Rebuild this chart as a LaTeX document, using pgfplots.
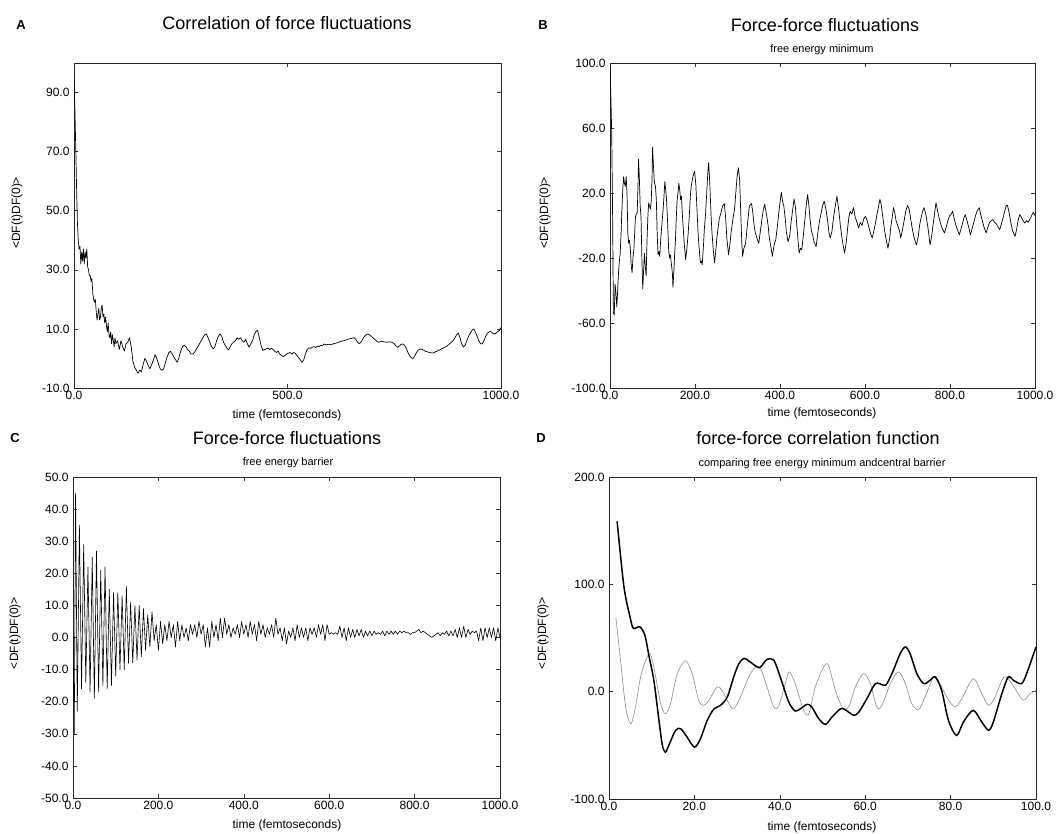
\documentclass[border=0pt]{standalone}
\usepackage{fontspec}
\setmainfont{Liberation Sans}
\usepackage{pgfplots}
\pgfplotsset{compat=1.18}

\pgfplotsset{
  panel/.style={
    scale only axis,
    anchor=south west,
    axis line style={line width=0.6pt, black!85},
    tick align=inside,
    tick pos=both,
    major tick length=4pt,
    tick style={line width=0.5pt, black!80},
    ticklabel style={font=\fontsize{12}{14}\selectfont},
    yticklabel style={xshift=-1pt},
    /pgf/number format/assume math mode=true,
    /pgf/number format/fixed,
    /pgf/number format/fixed zerofill,
    /pgf/number format/precision=1,
    /pgf/number format/1000 sep={},
    scaled ticks=false,
  },
  trace/.style={line width=0.7pt, black, line join=round},
}
\newcommand{\ttl}{\fontsize{18}{20}\selectfont}
\newcommand{\subt}{\fontsize{11}{13}\selectfont}
\newcommand{\lab}{\fontsize{12}{14}\selectfont}

\begin{document}
\begin{tikzpicture}
\useasboundingbox (0,0) rectangle (1057pt,833pt);

% ---------------- A
\begin{axis}[panel, at={(74pt,445pt)}, width=427pt, height=325pt,
  xmin=0, xmax=1000, ymin=-10, ymax=100,
  xtick={0,500,1000}, ytick={-10,10,30,50,70,90}]
\addplot[trace] coordinates {
(0,95) (2,85) (4,72) (6,58) (8,46) (10,40) (12,37) (14,38) (16,32) (18,36)
(20,33) (22,37) (24,32) (26,36) (28,34) (30,37) (32,31) (34,30) (36,28) (38,28)
(40,26) (42,27) (44,22) (46,20) (48,19) (50,20) (52,16) (54,13) (56,15) (58,17)
(60,13) (62,14) (64,17) (66,18) (68,14) (70,15) (72,12) (74,14) (76,11) (78,9)
(80,12) (82,8) (84,7) (86,9) (88,5) (90,8) (92,6) (94,4) (96,7) (98,5)
(102,6) (106,3) (110,6) (114,4) (118,2.5) (122,5) (126,5.5) (130,7) (134,4) (138,-1)
(142,-3) (146,-4) (150,-5) (154,-4) (158,-4.5) (162,-2) (166,0) (170,-1) (174,-2.5) (178,-3.5)
(182,-2) (186,-0.5) (190,1.3) (194,0) (198,-2) (202,-3.5) (206,-4) (210,-3.5) (214,-1.5) (218,0.5)
(222,2) (226,2.4) (230,1.5) (234,0.5) (238,-0.5) (242,-1.3) (246,0.5) (250,2.5) (254,4) (258,4.5)
(262,4) (266,3) (270,2.5) (274,1.5) (278,1.5) (282,2) (286,3) (290,4) (294,5) (298,6)
(302,7) (306,8) (310,8.3) (314,7) (318,5.5) (322,4) (326,3.2) (330,4) (334,6) (338,7.5)
(342,8.3) (346,7.5) (350,5.5) (354,4.5) (358,3.5) (362,2.9) (366,4) (370,5) (374,5.5) (378,6)
(382,7) (386,6.5) (390,7) (394,6) (398,5.5) (402,6.5) (406,5) (410,3.8) (414,5) (418,6)
(422,8) (426,9.1) (430,9.5) (434,7) (438,4.5) (442,2.7) (446,3) (450,3.2) (454,3.5) (458,3)
(462,3.5) (466,3) (470,2.5) (474,2) (478,2.5) (482,1.5) (486,1) (490,0.6) (494,1) (498,1.5)
(502,1.8) (506,2) (510,1.5) (514,2) (518,1.8) (522,1) (526,0.3) (530,-0.5) (534,-1.3) (538,-0.5)
(542,1.5) (546,3) (550,3.6) (554,3.4) (558,3.8) (562,4) (566,3.7) (570,4.2) (574,4) (578,4.5)
(582,4.3) (586,4.9) (590,4.6) (596,4.8) (602,4.6) (608,5) (614,5.2) (620,5.5) (626,5.8) (632,6)
(638,6.3) (644,6.6) (650,6.8) (656,7) (660,6.5) (664,5.5) (668,5) (672,5.5) (676,6.5) (680,7.5)
(684,8) (688,8.3) (692,8) (696,7.5) (700,7) (704,6.5) (708,6) (712,5.5) (716,5.6) (720,5.8)
(726,5.6) (732,5.5) (738,5.6) (744,5.5) (750,5) (754,4.2) (758,3.8) (762,4.2) (766,4.8) (770,4.9)
(774,4.5) (778,3.5) (782,2) (786,1) (790,0.2) (794,0) (798,0.8) (802,2) (806,2.8) (810,3.2)
(816,3) (822,2.5) (828,2.2) (834,2) (840,1.8) (846,2.2) (852,2.6) (858,3) (864,3.5) (868,3.8)
(872,4) (876,4.5) (880,5) (884,5.5) (888,6) (892,7) (896,8) (900,8.6) (904,7) (908,5)
(912,3.8) (916,4.5) (920,6) (924,7.5) (928,8.5) (932,9.5) (936,10) (940,9) (944,7.5) (948,6)
(952,5) (956,4.9) (960,6) (964,7.5) (968,8.5) (972,9) (976,9.1) (980,8.6) (984,8.3) (988,8.5)
(992,9) (996,9.5) (1000,10.5)
};
\end{axis}

% ---------------- B
\begin{axis}[panel, at={(610pt,445pt)}, width=425pt, height=325pt,
  xmin=0, xmax=1000, ymin=-100, ymax=100,
  xtick={0,200,...,1000}, ytick={-100,-60,-20,20,60,100}]
\addplot[trace] coordinates {
(0,98) (2,80) (4,57) (6,10) (8,-54) (10,-55) (12,-36) (14,-42) (16,-50) (18,-40)
(20,-29) (22,-22) (24,-17) (26,-5) (28,10) (30,22) (32,30) (34,26) (36,24) (38,30)
(40,20) (42,-5) (44,-11) (46,-9) (48,-15) (50,-25) (52,-29) (54,-20) (56,-15) (58,-5)
(60,5.7) (62,7) (64,8) (66,25) (67,40.8) (69,30) (71,12) (73,5) (75,-20) (77,-39)
(79,-28) (81,-17) (83,-25) (85,-31) (87,-10) (89,5) (91,14) (93,12) (95,10) (97,15)
(99,30) (100,48) (102,38) (104,28) (105,26) (107,24) (109,16) (111,-5) (113,-18) (115,-16)
(117,-19) (119,-10) (121,-3) (123,3.6) (125,10) (127,18) (129,27) (131,22) (133,16) (135,5)
(137,-8) (138,-15) (140,-20) (142,-18) (145,-25) (147,-30) (148,-38) (150,-30) (152,-18) (154,-9)
(156,5) (158,16) (160,20) (162,26) (164,22) (166,16) (168,18) (170,8) (172,-0.5) (175,-12)
(178,-21) (181,-14) (184,-4.6) (187,8) (189,18) (191,24) (195,30) (199,33.5) (202,25) (205,7.7)
(208,-8) (211,-18) (213,-23) (215,-22) (217,-24) (220,-12) (222,-2) (225,7.7) (228,22) (230,32)
(232,38.7) (234,30) (236,18) (238,5) (240,-4.6) (243,-15) (246,-23) (248,-18) (251,-9) (254,-2)
(257,4) (261,7.7) (265,12) (269,13.5) (272,5) (275,-8) (279,-18) (282,-12) (285,-4) (289,3.6)
(293,10) (296,20) (299,30) (302,35.6) (305,28) (308,5) (310,-10) (312,-19) (315,-14) (319,-11)
(322,-3) (325,5) (328,12) (331,13) (333,13.5) (336,8) (339,0) (342,-4.6) (346,-8) (350,-11)
(354,-3) (358,5) (361,10) (364,13) (366,10) (369,5.7) (372,0) (375,-8) (379,-14) (382,-19)
(386,-12) (390,-9) (394,0) (398,10) (401,16) (403,20.5) (406,15) (409,12) (412,5) (415,-4)
(419,-10) (423,-6) (426,2) (430,10) (433,16.4) (436,12) (439,2) (442,-8) (445,-17) (448,-14)
(451,-15) (455,-6) (459,5) (462,13) (465,19) (468,12) (471,3) (474,-3.6) (477,-6) (480,-10)
(485,-13) (489,-4.6) (493,3) (497,8) (500,12) (504,15) (508,10) (512,3) (515,-4) (518,-7.7)
(522,-4) (526,5) (530,12) (534,18) (538,10) (542,0) (546,-8) (549,-13) (552,-17) (556,-10)
(559,-2) (562,5) (565,8.8) (569,7) (573,11) (577,5) (581,2) (585,-1.5) (589,2) (593,0)
(597,4) (601,5.7) (605,3) (609,-1) (613,-5) (617,-7.7) (621,-3) (625,2) (629,8) (632,12)
(635,16) (638,13) (642,5) (646,-3) (650,-9) (654,-14) (658,-8) (661,0) (664,5) (667,11)
(670,8) (673,3) (677,0) (681,-3) (684,-7.7) (688,-3) (692,3) (696,9) (700,12.3) (704,10)
(708,3) (712,-3) (716,-8) (721,-12) (725,-7) (729,1) (733,6) (736,9) (739,11) (742,8)
(745,4) (749,-3) (753,-12) (757,-6) (761,2) (764,8) (767,14) (770,10) (774,5) (778,1)
(782,-2) (787,-4.6) (791,-1) (795,3) (799,6) (803,7) (806,8.8) (810,4) (814,0) (818,-3)
(822,-5.7) (826,-2) (830,2) (833,5) (836,6.7) (840,3) (844,-1) (848,-5.7) (852,-2) (856,2)
(860,6) (864,9) (869,11) (872,7) (876,3) (880,-1) (885,-4.6) (889,-1) (893,2) (897,3)
(901,3.6) (905,2) (909,1) (913,-1) (917,-2.6) (921,1) (925,5) (929,9) (932,12) (935,12.5)
(939,8) (943,2) (947,-3) (950,-5) (953,-6.7) (957,-2) (960,3) (964,6.7) (968,5) (972,3)
(976,1.5) (980,3) (984,2) (988,4) (992,6) (996,8.2) (1000,6)
};
\end{axis}

% ---------------- C
\begin{axis}[panel, at={(73pt,35pt)}, width=427pt, height=321pt,
  xmin=0, xmax=1000, ymin=-50, ymax=50,
  xtick={0,200,...,1000}, ytick={-50,-40,...,50}]
\addplot[trace, line width=0.6pt] coordinates {
(0,2) (3,-30) (6,45) (10,-23) (15,35) (20,-16) (25,29) (30,-14) (35,22) (40,-17)
(45,25) (50,-19) (55,27) (60,-17) (65,21) (70,-15) (75,22) (80,-16) (85,15) (90,-15)
(95,14) (100,-12) (105,14) (110,-10) (115,13) (120,-10) (125,16) (130,-8) (135,11) (140,-8)
(145,10) (150,-7) (155,10) (160,-6) (165,9) (170,-4) (175,7) (180,-3) (185,8) (190,-1)
(195,4) (200,-4) (205,5) (210,-2) (215,4) (220,-1) (225,5) (230,0) (235,4) (240,-3)
(245,5) (250,-1) (255,4) (260,0) (265,3) (270,-1) (275,4) (280,1) (285,4) (290,0)
(295,5) (300,1) (305,4) (310,-3) (315,3) (320,-3) (325,5) (330,0) (335,4) (340,-1)
(345,6) (350,0) (355,6) (360,1) (365,4) (370,0) (375,3) (380,1) (385,4) (390,0)
(395,5) (400,1) (405,4) (410,0) (415,5) (420,1) (425,4) (430,-1) (435,5) (440,1)
(445,4) (450,0) (455,3) (460,1) (465,4) (470,0) (475,6) (480,1) (485,3) (490,-1)
(495,3) (500,-2) (505,2) (510,0) (515,3) (520,-1) (525,4) (530,0) (535,3) (540,0)
(545,3) (550,-1) (555,3) (560,1) (565,3) (570,0) (575,4) (580,1) (585,4) (590,-1)
(595,4) (600,1) (605,1.5) (610,1) (615,1.5) (620,1) (625,3.5) (630,0) (635,3) (640,-1)
(645,3) (650,0) (655,2.5) (660,0) (665,2.5) (670,0.5) (675,2.5) (680,0) (685,2) (690,0.5)
(695,2) (700,0.5) (705,2) (710,1) (715,1.5) (720,1) (725,2) (730,0.5) (735,2) (740,1)
(745,2) (750,1) (755,2) (760,1) (765,2) (770,1.5) (775,2) (780,1.5) (785,1.5) (790,1)
(795,1.5) (800,1.5) (805,2) (810,2.5) (815,1.5) (820,2) (825,1.5) (830,1) (835,0.5) (840,0)
(845,0.5) (850,1) (855,1.5) (860,0.5) (865,1.5) (870,1) (875,2) (880,0.5) (885,2) (890,0.5)
(895,2.5) (900,0) (905,3) (910,0) (915,3.5) (920,0) (925,2.5) (930,1) (935,2) (940,1.5)
(945,2) (950,-1) (955,3) (960,-1) (965,3) (970,0) (975,3) (980,0) (985,3) (990,-1)
(995,3) (1000,0)
};
\end{axis}

% ---------------- D
\begin{axis}[panel, at={(609pt,34pt)}, width=427pt, height=322pt,
  xmin=0, xmax=100, ymin=-100, ymax=200,
  xtick={0,20,...,100}, ytick={-100,0,100,200}]
\addplot[black!45, line width=0.6pt, smooth, tension=0.5] coordinates {
(1.6,69) (2.7,29.3) (3.9,-14.3) (5.1,-30) (6.2,-14.3) (7.4,13.7) (8.6,29.3) (9.6,35.5) (10.5,23) (12.1,-11.2)
(13.2,-20.6) (14.4,-11.2) (16,16.8) (17.9,28.7) (19.5,16.8) (21,-8) (22.2,-12.8) (23.4,-8) (25.3,4.4) (26.5,1.2)
(28.1,-11.2) (29.2,-16) (30.8,-5) (32.7,13.7) (34.3,23) (35.5,21.5) (37,4.4) (38.6,-14.3) (39.8,-12.8) (41.7,13.7)
(42.3,18.4) (43.6,7.5) (45.6,-17.4) (46.8,-20.6) (48.3,4.4) (50.3,23) (51.4,24.6) (53,1.2) (54.6,-14.3) (56.1,-14.3)
(57.7,4.4) (59.6,16.8) (61.2,7.5) (62.7,-14.3) (63.9,-12.8) (65.9,7.5) (67.8,18.4) (69.4,7.5) (70.9,-11.2) (72.5,-16.8)
(74,-5) (76,13.7) (77.1,10.6) (79.1,-5) (81,-14.3) (82.6,-6.5) (85.3,12) (87.3,-1.9) (88.9,-12.8) (90.4,-5)
(92,10.6) (93.1,13.7) (95.1,2.8) (97,-8) (98.6,-1.9) (100,1.2)
};
\addplot[black, line width=1.5pt, smooth, tension=0.5] coordinates {
(1.9,158.6) (3.5,97.8) (4.9,70) (5.7,59) (7.2,60.4) (8.4,52.6) (9.4,32.4) (10.5,10.6) (11.7,-26.8) (12.5,-50)
(13.2,-56.4) (14,-50) (15.6,-36) (16.8,-34.6) (18.3,-42.4) (20,-51.7) (21.4,-44) (23,-26.8) (24.6,-16) (26.1,-12.8)
(27.7,-5) (29.2,13.7) (30.4,26) (31.6,31) (32.7,28.7) (34.7,23) (35.5,23) (37,30) (38.6,29.3) (40.1,13.7)
(42.1,-9.7) (43.6,-18) (44.8,-16) (46.4,-11.8) (47.5,-14.3) (49.1,-25) (50.7,-30.5) (52.2,-23.7) (54.2,-16) (55.3,-16.8)
(57.3,-22) (58.5,-19) (60.4,-6.5) (62.4,7.5) (64.3,6) (65.1,7.5) (66.6,20) (68.2,35.5) (69.4,41.7) (70.5,35.5)
(72.1,16.8) (73.7,7.5) (75.2,10.6) (76.4,13.7) (77.9,1.2) (79.5,-26.8) (81.4,-40.8) (83,-28.3) (85.3,-17.4) (87.3,-28.3)
(88.9,-36) (90,-28.3) (92,-1.9) (93.5,13.7) (94.7,10.6) (96.6,7.5) (97.8,16.8) (100,41.7)
};
\end{axis}

% ---------------- titles and labels
\node[font=\bfseries\fontsize{13}{15}\selectfont] at (21pt,808pt) {A};
\node[font=\ttl] at (287pt,810pt) {Correlation of force fluctuations};
\node[font=\lab] at (287pt,418pt) {time (femtoseconds)};
\node[font=\lab, rotate=90] at (17pt,620pt) {<DF(t)DF(0)>};

\node[font=\bfseries\fontsize{13}{15}\selectfont] at (543pt,808pt) {B};
\node[font=\ttl] at (825pt,808pt) {Force-force fluctuations};
\node[font=\subt] at (822pt,783pt) {free energy minimum};
\node[font=\lab] at (822pt,420pt) {time (femtoseconds)};
\node[font=\lab, rotate=90] at (545pt,620pt) {<DF(t)DF(0)>};

\node[font=\bfseries\fontsize{13}{15}\selectfont] at (15pt,395pt) {C};
\node[font=\ttl] at (287pt,395pt) {Force-force fluctuations};
\node[font=\subt] at (288pt,370pt) {free energy barrier};
\node[font=\lab] at (287pt,8pt) {time (femtoseconds)};
\node[font=\lab, rotate=90] at (15pt,200pt) {<DF(t)DF(0)>};

\node[font=\bfseries\fontsize{13}{15}\selectfont] at (541pt,395pt) {D};
\node[font=\ttl] at (818pt,395pt) {force-force correlation function};
\node[font=\subt] at (822pt,369pt) {comparing free energy minimum andcentral barrier};
\node[font=\lab] at (822pt,6pt) {time (femtoseconds)};
\node[font=\lab, rotate=90] at (543pt,200pt) {<DF(t)DF(0)>};
\end{tikzpicture}
\end{document}
